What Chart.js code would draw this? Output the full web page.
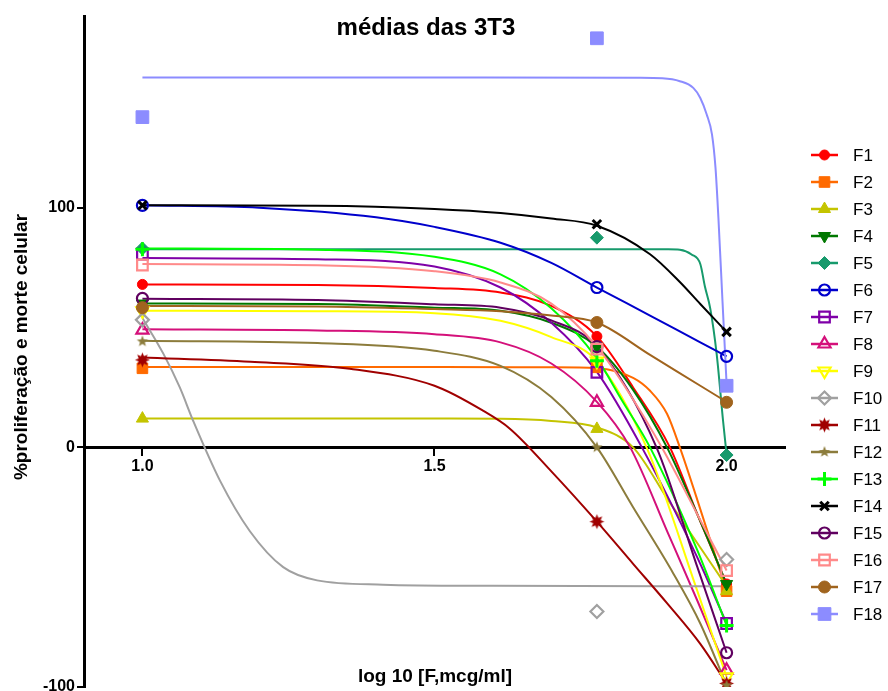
<!DOCTYPE html>
<html>
<head>
<meta charset="utf-8">
<title>médias das 3T3</title>
<script src="https://cdn.jsdelivr.net/npm/chart.js@4.4.0/dist/chart.umd.min.js"></script>
<style>
  html, body { margin: 0; padding: 0; background: #fff; overflow: hidden; }
  canvas { display: block; }
</style>
</head>
<body>
<canvas id="chart" width="888" height="691"></canvas>
<script>
// log10 of the tested concentrations (10, 60 and 100 mcg/ml)
const doses  = [1.0, 1.778, 2.0];
const xTicks = [1.0, 1.5, 2.0];
const yTicks = [-100, 0, 100];
const names  = ['F1', 'F2', 'F3', 'F4', 'F5', 'F6', 'F7', 'F8', 'F9',
                'F10', 'F11', 'F12', 'F13', 'F14', 'F15', 'F16', 'F17', 'F18'];

// mean % at each dose
const f1Means  = [68, 46.3, -57];
const f2Means  = [33, 33.4, -60];
const f3Means  = [12, 7.7, -60];
const f4Means  = [60, 42, -57];
const f5Means  = [83, 87.5, -3.2];
const f6Means  = [101, 66.7, 38];
const f7Means  = [80.6, 31.3, -73.5];
const f8Means  = [48.9, 18.8, -93];
const f9Means  = [57, 36, -95.8];
const f10Means = [53.2, -68.5, -46.8];
const f11Means = [36.5, -31, -98.5];
const f12Means = [44.2, 0, -99.3];
const f13Means = [82.7, 36.1, -74.3];
const f14Means = [101, 93.1, 48.2];
const f15Means = [62.2, 42, -85.7];
const f16Means = [76.1, 41, -51.4];
const f17Means = [58.3, 52.1, 18.8];
const f18Means = [137.8, 170.7, 25.7];

// fitted dose-response curves, [log dose, %]
const f1Curve  = [[1.0,68],[1.3,67.8],[1.5,66.5],[1.613,64.6],[1.7,59],[1.778,46.3],[1.84,25],[1.903,0],[1.95,-28],[2.0,-57]];
const f2Curve  = [[1.0,33.5],[1.5,33.5],[1.7,33.4],[1.778,33],[1.84,29],[1.869,23.6],[1.898,14],[1.92,0],[1.95,-22],[2.0,-60]];
const f3Curve  = [[1.0,12],[1.5,12],[1.613,11.9],[1.7,11],[1.778,8.3],[1.84,0],[1.9,-22],[1.95,-40],[2.0,-58]];
const f4Curve  = [[1.0,60],[1.3,59.8],[1.5,58.3],[1.613,57],[1.7,52],[1.778,42],[1.84,24],[1.898,0],[1.95,-28],[2.0,-57]];
const f5Curve  = [[1.0,82.7],[1.5,82.7],[1.9,82.7],[1.92,82.5],[1.94,80.5],[1.955,76.5],[1.963,67],[1.972,58],[1.983,39],[1.994,11],[2.0,-3]];
const f6Curve  = [[1.0,101],[1.2,100],[1.4,96],[1.5,92],[1.613,85.4],[1.7,77],[1.778,66.7],[1.869,55],[1.955,43.8],[2.0,38]];
const f7Curve  = [[1.0,79],[1.3,78.5],[1.5,75.5],[1.613,66.7],[1.7,52],[1.778,31.5],[1.855,0],[1.95,-46],[2.0,-73.5]];
const f8Curve  = [[1.0,49.3],[1.3,48.8],[1.5,47.2],[1.613,43.8],[1.7,35],[1.778,19],[1.835,0],[1.9,-36],[1.95,-64],[2.0,-93]];
const f9Curve  = [[1.0,57],[1.3,56.8],[1.5,56],[1.613,52.8],[1.7,46],[1.778,36],[1.863,0],[1.95,-60],[2.0,-95.8]];
const f10Curve = [[1.0,54],[1.036,39],[1.064,25],[1.087,11],[1.133,-14],[1.184,-35],[1.241,-50],[1.299,-55.5],[1.412,-57.3],[1.6,-57.8],[2.0,-58]];
const f11Curve = [[1.0,37.5],[1.185,35.7],[1.355,32.8],[1.5,25.7],[1.583,15.3],[1.629,7.8],[1.7,-10],[1.778,-31],[1.84,-48.6],[1.898,-65],[1.955,-82],[2.0,-98.5]];
const f12Curve = [[1.0,44.5],[1.3,43.5],[1.5,40.3],[1.613,34],[1.7,21],[1.778,0],[1.84,-25],[1.909,-52.7],[1.955,-73.5],[2.0,-99.3]];
const f13Curve = [[1.0,83],[1.3,82.5],[1.5,79.5],[1.613,72.2],[1.7,58],[1.778,37],[1.82,20],[1.869,0],[1.95,-43],[2.0,-74.3]];
const f14Curve = [[1.0,101],[1.3,100.8],[1.5,99.5],[1.613,97.8],[1.7,95.5],[1.778,92.5],[1.869,80.6],[1.92,69],[1.955,59.8],[2.0,48.2]];
const f15Curve = [[1.0,62],[1.3,61.5],[1.5,59.7],[1.613,58.3],[1.7,53],[1.778,42],[1.88,0],[1.95,-50],[2.0,-85.7]];
const f16Curve = [[1.0,76.5],[1.3,76],[1.5,73.5],[1.613,68.8],[1.7,60],[1.778,42],[1.84,20],[1.889,0],[1.95,-28],[2.0,-51.4]];
const f17Curve = [[1.0,59],[1.3,58.8],[1.5,57.7],[1.613,56.8],[1.7,55],[1.778,52.1],[1.869,38.6],[1.955,25.7],[2.0,19]];
const f18Curve = [[1.0,154.3],[1.5,154.3],[1.85,154.2],[1.89,154],[1.92,152.8],[1.943,150],[1.955,145.8],[1.966,138.9],[1.975,130.6],[1.981,116.7],[1.986,95.8],[1.993,61],[2.0,26.5]];

const means  = [f1Means, f2Means, f3Means, f4Means, f5Means, f6Means, f7Means, f8Means, f9Means,
                f10Means, f11Means, f12Means, f13Means, f14Means, f15Means, f16Means, f17Means, f18Means];
const curves = [f1Curve, f2Curve, f3Curve, f4Curve, f5Curve, f6Curve, f7Curve, f8Curve, f9Curve,
                f10Curve, f11Curve, f12Curve, f13Curve, f14Curve, f15Curve, f16Curve, f17Curve, f18Curve];

const chartTitle = 'médias das 3T3';
const xTitle = 'log 10 [F,mcg/ml]';
const yTitle = '%proliferação e morte celular';

const FONT = 'Arial, "Liberation Sans", sans-serif';

function starCanvas(points, outer, inner, color) {
  const c = document.createElement('canvas');
  const size = Math.ceil(outer * 2 + 2);
  c.width = size;
  c.height = size;
  const g = c.getContext('2d');
  g.fillStyle = color;
  g.beginPath();
  for (let i = 0; i < points * 2; i++) {
    const r = i % 2 ? inner : outer;
    const a = -Math.PI / 2 + i * Math.PI / points;
    g.lineTo(size / 2 + r * Math.cos(a), size / 2 + r * Math.sin(a));
  }
  g.closePath();
  g.fill();
  return c;
}

const OPEN = 'rgba(0,0,0,0)';

// colour and symbol of each series
const styles = [
  { color: '#ff0000', style: 'circle',   r: 5,   fill: true },
  { color: '#ff6a00', style: 'rect',     r: 7.5, fill: true },
  { color: '#c4c400', style: 'triangle', r: 7,   fill: true },
  { color: '#007800', style: 'triangle', r: 7,   fill: true, rot: 180 },
  { color: '#179a6c', style: 'rectRot',  r: 6.5, fill: true },
  { color: '#0000cc', style: 'circle',   r: 5.5, fill: false },
  { color: '#7f00a8', style: 'rect',     r: 7.5, fill: false },
  { color: '#d4107a', style: 'triangle', r: 7,   fill: false },
  { color: '#ffff00', style: 'triangle', r: 7,   fill: false, rot: 180 },
  { color: '#a0a0a0', style: 'rectRot',  r: 6.5, fill: false },
  { color: '#a00000', style: starCanvas(8, 7.5, 4, '#a00000'), r: 7, fill: true },
  { color: '#8c7c3c', style: starCanvas(5, 6, 2.5, '#8c7c3c'), r: 6, fill: true },
  { color: '#00ff00', style: 'cross',    r: 7,   fill: false, bw: 3 },
  { color: '#000000', style: 'crossRot', r: 6,   fill: false, bw: 3 },
  { color: '#600060', style: 'circle',   r: 5.5, fill: false },
  { color: '#ff8a8a', style: 'rect',     r: 7.5, fill: false },
  { color: '#a0641e', style: 'circle',   r: 6,   fill: true },
  { color: '#8c8cff', style: 'rect',     r: 9,   fill: true }
];

const datasets = [];
names.forEach((name, i) => {
  const s = styles[i];
  datasets.push({
    label: name,
    data: curves[i].map(p => ({ x: p[0], y: p[1] })),
    borderColor: s.color,
    borderWidth: 2,
    pointRadius: 0,
    fill: false,
    cubicInterpolationMode: 'monotone',
    order: 100 + (names.length - i)
  });
  datasets.push({
    label: name + ' pontos',
    data: doses.map((d, k) => ({ x: d, y: means[i][k] })),
    showLine: false,
    pointStyle: s.style,
    pointRadius: s.r,
    pointRotation: s.rot || 0,
    pointBorderColor: s.color,
    pointBackgroundColor: s.fill ? s.color : OPEN,
    pointBorderWidth: s.bw || (s.fill ? 1 : 2.2),
    order: names.length - i
  });
});

const textPlugin = {
  id: 'textPlugin',
  afterDraw(chart) {
    const ctx = chart.ctx;
    ctx.save();
    ctx.fillStyle = '#000';
    ctx.textAlign = 'center';
    ctx.textBaseline = 'middle';
    ctx.font = 'bold 24px ' + FONT;
    ctx.fillText(chartTitle, 426, 28);
    ctx.font = 'bold 19px ' + FONT;
    ctx.fillText(xTitle, 435, 677);
    ctx.translate(22, 347);
    ctx.rotate(-Math.PI / 2);
    ctx.fillText(yTitle, 0, 0);
    ctx.restore();

    // legend: line sample with symbol, then the name
    const drawPoint = Chart.helpers && Chart.helpers.drawPoint;
    names.forEach((name, i) => {
      const s = styles[i];
      const y = 155 + 27 * i;
      ctx.save();
      ctx.strokeStyle = s.color;
      ctx.lineWidth = 2.5;
      ctx.beginPath();
      ctx.moveTo(811, y);
      ctx.lineTo(838, y);
      ctx.stroke();
      if (drawPoint) {
        ctx.fillStyle = s.fill ? s.color : OPEN;
        ctx.lineWidth = s.bw || (s.fill ? 1 : 2.2);
        drawPoint(ctx, { pointStyle: s.style, radius: s.r, rotation: s.rot || 0, borderWidth: ctx.lineWidth }, 824.5, y);
      }
      ctx.fillStyle = '#000';
      ctx.font = '17px ' + FONT;
      ctx.textAlign = 'left';
      ctx.textBaseline = 'middle';
      ctx.fillText(name, 853, y + 1);
      ctx.restore();
    });
  }
};

const tickFont = { family: FONT, size: 16, weight: 'bold' };

new Chart(document.getElementById('chart'), {
  type: 'line',
  data: { datasets },
  options: {
    responsive: false,
    animation: false,
    layout: { autoPadding: false, padding: { top: 16, right: 103, bottom: 4, left: 0 } },
    plugins: {
      legend: { display: false },
      title: { display: false },
      tooltip: { enabled: false }
    },
    scales: {
      x: {
        type: 'linear',
        min: 0.9,
        max: 2.1,
        position: { y: 0 },
        afterBuildTicks: scale => { scale.ticks = xTicks.map(v => ({ value: v })); },
        afterFit: scale => { scale.paddingLeft = 0; scale.paddingRight = 0; },
        ticks: {
          callback: v => Number(v).toFixed(1),
          font: tickFont,
          color: '#000',
          padding: 3,
          maxRotation: 0,
          autoSkip: false
        },
        grid: { drawOnChartArea: false, drawTicks: true, tickLength: 7, color: '#000', lineWidth: 2 },
        border: { display: true, color: '#000', width: 3 }
      },
      y: {
        type: 'linear',
        min: -100,
        max: 180,
        afterBuildTicks: scale => { scale.ticks = yTicks.map(v => ({ value: v })); },
        afterFit: scale => { scale.width = 84; scale.paddingTop = 0; scale.paddingBottom = 0; },
        ticks: { font: tickFont, color: '#000', padding: 2 },
        grid: { drawOnChartArea: false, drawTicks: true, tickLength: 7, color: '#000', lineWidth: 2 },
        border: { display: true, color: '#000', width: 3 }
      }
    }
  },
  plugins: [textPlugin]
});
</script>
</body>
</html>
